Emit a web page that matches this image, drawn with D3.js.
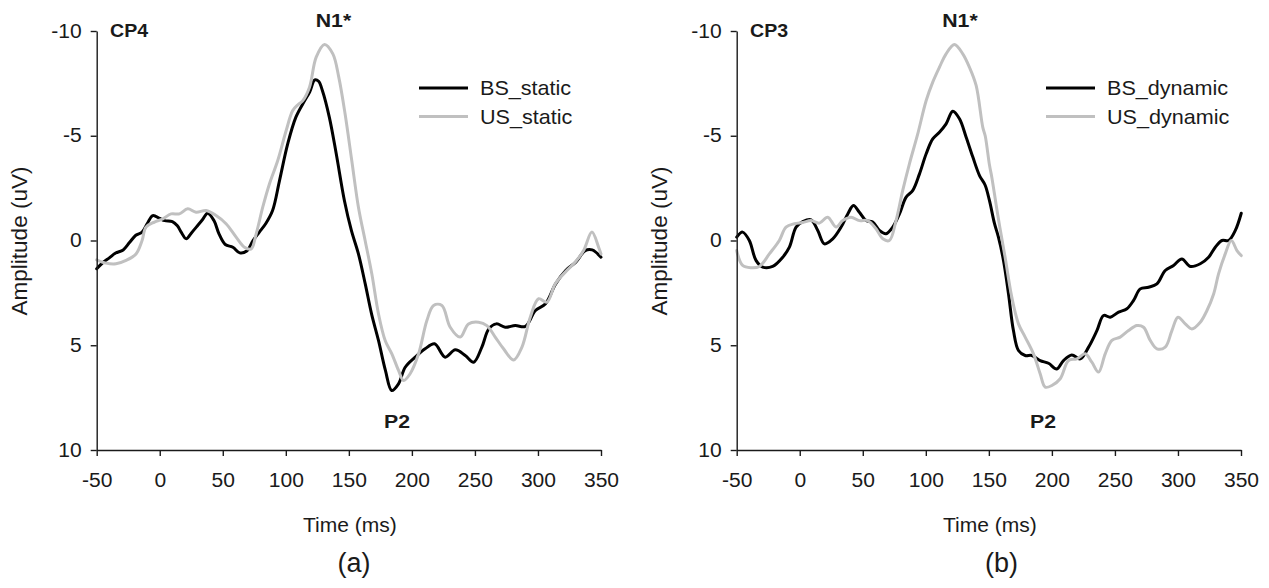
<!DOCTYPE html>
<html><head><meta charset="utf-8">
<script src="https://cdn.jsdelivr.net/npm/d3@7"></script>
<style>
body{margin:0;background:#fff}
svg{display:block}
text{font-family:"Liberation Sans",Arial,sans-serif;fill:#1a1a1a}
</style>
</head><body>
<svg id="chart" width="1269" height="588"></svg>
<script>
// ---------- DATA ----------
const timeTicks = [-50, 0, 50, 100, 150, 200, 250, 300, 350];
const ampTicks = [-10, -5, 0, 5, 10];
const seriesNamesA = ["BS_static", "US_static"];
const seriesNamesB = ["BS_dynamic", "US_dynamic"];
const electrodes = ["CP4", "CP3"];
const panelTags = ["(a)", "(b)"];
const peakLabels = ["N1*", "P2"];

// [time ms, amplitude uV]
const bsStatic = [[-50,1.35],[-45,1.05],[-40,0.83],[-35,0.6],[-29,0.45],[-24,0.1],[-19,-0.25],[-14,-0.4],[-10,-0.8],[-5.5,-1.19],[0,-1.05],[4,-0.95],[10,-0.9],[14,-0.7],[17,-0.4],[21,-0.08],[25,-0.35],[29,-0.64],[34,-1.0],[38,-1.3],[43,-0.95],[47,-0.32],[52,0.19],[58,0.32],[63.5,0.59],[69,0.5],[74,0],[79,-0.4],[84,-0.8],[89.5,-1.43],[95,-2.86],[101.5,-4.61],[108,-5.89],[115,-6.68],[119,-7.1],[123,-7.67],[126,-7.6],[129,-7.16],[134.5,-5.89],[140,-4.14],[146.5,-1.9],[152,-0.48],[157.6,0.64],[163,2.07],[168,3.5],[173.5,4.77],[179,6.2],[184,7.16],[189.4,6.84],[194.7,6.05],[202.6,5.57],[210.5,5.17],[218,4.93],[226.4,5.57],[234.4,5.22],[242.3,5.49],[249,5.81],[255.5,5.09],[261,4.22],[267,3.98],[274,4.14],[282,4.06],[290,4.1],[298,3.34],[306,3.02],[314,2.07],[322,1.43],[330,1.03],[337.5,0.48],[343,0.45],[350,0.8]];
const usStatic = [[-50,0.92],[-42.6,1.08],[-34.7,1.11],[-26.7,0.95],[-18.8,0.64],[-14,0.0],[-10.9,-0.64],[-4.2,-0.88],[2.4,-1.03],[9,-1.27],[15.6,-1.27],[22.2,-1.51],[28.8,-1.35],[36.8,-1.43],[44.7,-1.19],[52.6,-0.8],[60.6,-0.16],[67.2,0.32],[72.5,0.4],[76.5,-0.32],[81.7,-1.59],[87,-2.7],[93.6,-3.82],[100.3,-5.25],[105.5,-6.2],[110,-6.5],[113.5,-6.68],[118.8,-7.32],[124.1,-8.75],[130.7,-9.36],[137.3,-8.91],[142,-7.8],[147,-6.05],[152.3,-3.82],[157.6,-1.59],[162.9,0],[168.2,1.59],[173.5,3.5],[178.8,4.77],[184.1,5.41],[189.4,6.2],[193.4,6.68],[198.6,6.36],[205.3,5.41],[211.9,3.82],[217.2,3.1],[223.8,3.1],[230.4,4.14],[238.3,4.61],[244.9,3.98],[252.9,3.9],[259.5,4.06],[266.1,4.61],[272.7,5.17],[280.7,5.7],[287.3,5.09],[293.9,3.66],[300.5,2.78],[307.1,2.94],[313.7,2.07],[321.7,1.51],[329.6,1.03],[336.2,0.48],[342.8,-0.4],[348.1,0.32],[350,0.64]];
const bsDynamic = [[-50,-0.16],[-45.3,-0.4],[-40,0],[-34.7,0.95],[-29.4,1.27],[-21.5,1.24],[-13.5,0.8],[-8.2,0.32],[-2.9,-0.64],[2.4,-0.9],[9,-0.99],[14.3,-0.48],[19.6,0.16],[26.2,-0.08],[32.8,-0.64],[38.1,-1.27],[42.6,-1.67],[47.3,-1.35],[52.6,-0.95],[57.9,-0.88],[63.2,-0.48],[68.5,-0.32],[73.8,-0.64],[79.1,-1.27],[84.4,-2.07],[89.7,-2.39],[95,-3.18],[100.3,-4.14],[105.5,-4.85],[110.8,-5.17],[116.1,-5.57],[121.4,-6.17],[126.7,-5.81],[132,-4.93],[137.3,-3.98],[142.6,-3.1],[147,-2.65],[150.5,-1.9],[154.5,-0.8],[157.6,-0.16],[161.6,0.95],[165.6,2.55],[169.5,4.3],[173.5,5.25],[178.8,5.49],[184.1,5.49],[190.7,5.73],[197.3,5.86],[203.9,6.13],[209.2,5.73],[215.8,5.46],[222.5,5.65],[229.1,5.09],[235.7,4.3],[241,3.58],[246.3,3.66],[252.9,3.42],[259.5,3.26],[264.8,2.86],[270.1,2.31],[276.7,2.23],[283.3,2.07],[289.9,1.43],[296.5,1.19],[303.1,0.88],[309.8,1.24],[317.7,1.11],[324.3,0.8],[329.6,0.32],[334.9,0],[340.2,0],[345.5,-0.48],[350.2,-1.3]];
const usDynamic = [[-50,0.48],[-45.3,1.19],[-38.7,1.3],[-32,1.24],[-24.1,0.64],[-16.2,0],[-10.9,-0.64],[-4.3,-0.8],[2.4,-0.86],[9,-0.95],[15.6,-0.83],[22.2,-1.11],[28.8,-0.64],[34.1,-0.95],[40.7,-1.11],[47.3,-0.95],[53.9,-0.95],[60.5,-0.56],[65.9,-0.08],[71.1,0],[76.4,-0.95],[81.7,-2.39],[87,-3.66],[93.6,-5.09],[100.3,-6.68],[105.5,-7.56],[110.8,-8.27],[116.1,-8.91],[122.7,-9.36],[129.3,-8.91],[134.6,-8.27],[139.9,-7.4],[145.2,-5.4],[147.1,-5.0],[150.5,-3.6],[152.4,-3.0],[155.8,-1.7],[158.5,-0.7],[162.9,0.8],[168.2,2.7],[173.5,3.98],[178.8,4.61],[185.4,5.41],[190.7,6.36],[194.7,7.0],[200,6.92],[206.6,6.6],[213.2,5.73],[219.8,5.65],[226.4,5.41],[231.7,5.81],[237,6.28],[242.3,5.41],[247.6,4.77],[254.2,4.61],[260.8,4.3],[267.4,4.06],[272.7,4.14],[278,4.77],[283.3,5.17],[289.9,5.09],[295.2,4.3],[300,3.66],[305.8,3.98],[311,4.22],[317.7,3.9],[323,3.34],[328.3,2.55],[332.2,1.59],[337.5,0.64],[342.3,0],[346.8,0.48],[350.2,0.72]];

// ---------- LAYOUT ----------
const svg = d3.select("#chart");
const colors = ["#000000", "#c0c0c0"];
const panelOffsets = [0, 640];
const legendStarts = [419, 1046];
const n1X = [333.5, 960];
const p2X = [397, 1043];
const tagX = [354, 1001.5];

function stretch(sel, sx) {
  sel.each(function () {
    const t = d3.select(this);
    const x = +t.attr("x") || 0;
    t.attr("x", x / sx).attr("transform", `scale(${sx},1)`);
  });
}

const panels = [
  {series: [bsStatic, usStatic], names: seriesNamesA},
  {series: [bsDynamic, usDynamic], names: seriesNamesB}
];

panels.forEach((p, i) => {
  const ox = panelOffsets[i];
  const x = d3.scaleLinear().domain([-50, 350]).range([96.7 + ox, 601 + ox]);
  const y = d3.scaleLinear().domain([-10, 10]).range([31, 450]);
  const g = svg.append("g");

  const line = d3.line().x(d => x(d[0])).y(d => y(d[1])).curve(d3.curveCatmullRom.alpha(0.5));
  p.series.forEach((s, k) => {
    g.append("path").datum(s).attr("d", line)
      .attr("fill", "none").attr("stroke", colors[k]).attr("stroke-width", 3)
      .attr("stroke-linejoin", "round").attr("stroke-linecap", "round");
  });

  const fmt = d => String(d);
  const ya = g.append("g").attr("transform", `translate(${x(-50)},0)`)
    .call(d3.axisLeft(y).tickValues(ampTicks).tickFormat(fmt).tickSize(6).tickSizeOuter(0).tickPadding(9));
  const xa = g.append("g").attr("transform", `translate(0,${y(10)})`)
    .call(d3.axisBottom(x).tickValues(timeTicks).tickFormat(fmt).tickSize(6).tickSizeOuter(0).tickPadding(17));
  [ya, xa].forEach(a => {
    a.select(".domain").attr("stroke", "#1a1a1a").attr("stroke-width", 1.4);
    a.selectAll(".tick line").attr("stroke", "#1a1a1a").attr("stroke-width", 1.4);
    a.selectAll(".tick text").attr("font-size", 19.5).attr("font-family", "Liberation Sans, Arial, sans-serif").attr("fill", "#1a1a1a");
  });
  stretch(ya.selectAll(".tick text"), 1.08);
  stretch(xa.selectAll(".tick text"), 1.08);

  // axis titles
  g.append("text").attr("x", (x(-50) + x(350)) / 2 + 1).attr("y", 532)
    .attr("text-anchor", "middle").attr("font-size", 21).text("Time (ms)");
  g.append("text").attr("transform", `translate(${27 + ox},241) rotate(-90)`)
    .attr("text-anchor", "middle").attr("font-size", 22.5).text("Amplitude (uV)");

  // electrode label
  const el = g.append("text").attr("x", 110 + ox).attr("y", 37)
    .attr("font-size", 17.5).attr("font-weight", "bold").text(electrodes[i]);
  stretch(el, 1.12);
  const n1 = g.append("text").attr("x", n1X[i]).attr("y", 27).attr("text-anchor", "middle")
    .attr("font-size", 18.5).attr("font-weight", "bold").text(peakLabels[0]);
  stretch(n1, 1.15);
  const p2 = g.append("text").attr("x", p2X[i]).attr("y", 428).attr("text-anchor", "middle")
    .attr("font-size", 19).attr("font-weight", "bold").text(peakLabels[1]);
  stretch(p2, 1.12);

  // legend
  p.names.forEach((nm, k) => {
    const ly = 88 + k * 28.5;
    g.append("line").attr("x1", legendStarts[i]).attr("x2", legendStarts[i] + 49)
      .attr("y1", ly).attr("y2", ly).attr("stroke", colors[k]).attr("stroke-width", 3);
    const t = g.append("text").attr("x", legendStarts[i] + 61).attr("y", ly + 7.5)
      .attr("font-size", 20).text(nm);
    stretch(t, 1.08);
  });

  // panel tag
  g.append("text").attr("x", tagX[i]).attr("y", 572).attr("text-anchor", "middle")
    .attr("font-family", "Liberation Serif, Times New Roman, serif").attr("font-size", 27).text(panelTags[i]);
});
</script>
</body></html>
